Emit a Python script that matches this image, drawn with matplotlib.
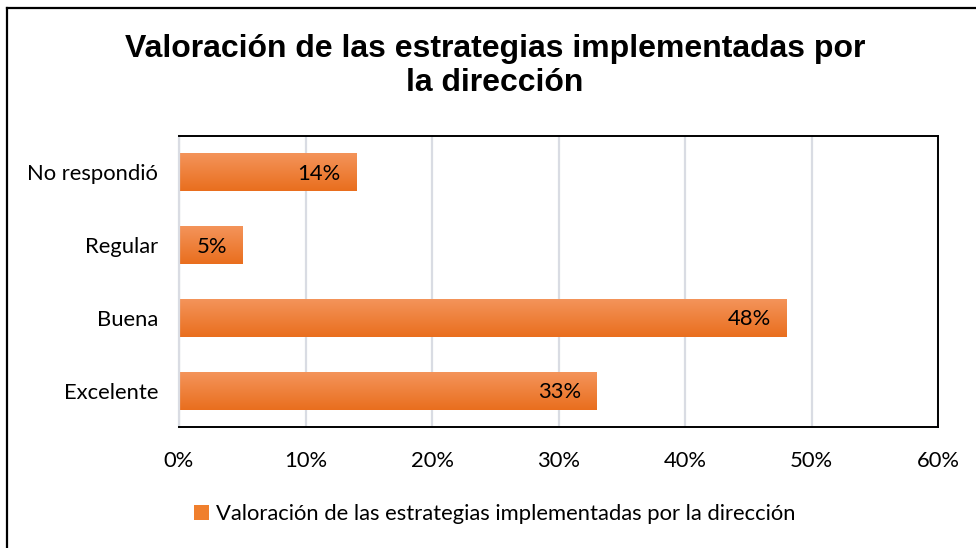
import numpy as np
import matplotlib
matplotlib.use("Agg")
import matplotlib.pyplot as plt
from matplotlib.lines import Line2D
from matplotlib.patches import Patch
from matplotlib.colors import LinearSegmentedColormap

categories = ["Excelente", "Buena", "Regular", "No respondió"]
values = [33, 48, 5, 14]
x_ticks = [0, 10, 20, 30, 40, 50, 60]
title = "Valoración de las estrategias implementadas por\nla dirección"
series_name = "Valoración de las estrategias implementadas por la dirección"

plt.rcParams["font.family"] = ["Lato", "DejaVu Sans"]
FS = 15.8

fig = plt.figure(figsize=(9.76, 5.48), dpi=100)
ax = fig.add_axes([0.1834, 0.2208, 0.7777, 0.531])

# vertical gradient for the bars, light on top, darker at the bottom
grad = LinearSegmentedColormap.from_list("bar", ["#e96e1e", "#f4945a"])
h = 0.52
for i, v in enumerate(values):
    ax.imshow(np.linspace(0, 1, 64).reshape(-1, 1), cmap=grad, aspect="auto",
              extent=(0, v, i - h / 2, i + h / 2), origin="lower", zorder=2)
    ax.annotate(f"{v}%", xy=(v, i), xytext=(-11, -1), textcoords="offset points",
                ha="right", va="center", fontsize=FS, color="black", zorder=3)

ax.set_xlim(0, 60)
ax.set_ylim(-0.5, len(categories) - 0.5)
ax.set_yticks(range(len(categories)))
ax.set_yticklabels(categories, fontsize=FS)
ax.set_xticks(x_ticks)
ax.set_xticklabels([f"{t}%" for t in x_ticks], fontsize=FS)
ax.tick_params(axis="both", length=0)
ax.tick_params(axis="y", pad=15)
ax.tick_params(axis="x", pad=17)
ax.grid(axis="x", color="#d9dce3", lw=1.6, zorder=0)
ax.set_axisbelow(True)
for side in ["top", "right", "bottom"]:
    ax.spines[side].set_color("black")
    ax.spines[side].set_linewidth(1.4)
ax.spines["left"].set_color("#d9dce3")
ax.spines["left"].set_linewidth(1.6)

fig.text(0.507, 0.879, title, ha="center", va="center", fontsize=23,
         fontweight="bold", family=["Liberation Sans", "DejaVu Sans"],
         linespacing=1.17)

handle = Patch(facecolor="#f07f2d", edgecolor="none")
fig.legend([handle], [series_name], loc="center", bbox_to_anchor=(0.507, 0.062),
           frameon=False, fontsize=FS, handlelength=0.7, handleheight=0.7,
           handletextpad=0.3)

# chart border (left and top visible in reference)
fig.add_artist(Line2D([0.0072, 0.0072], [0, 0.985], color="black", lw=1.6,
                      transform=fig.transFigure))
fig.add_artist(Line2D([0.0072, 1.0], [0.985, 0.985], color="black", lw=1.6,
                      transform=fig.transFigure))

fig.savefig("out.png", dpi=100)
